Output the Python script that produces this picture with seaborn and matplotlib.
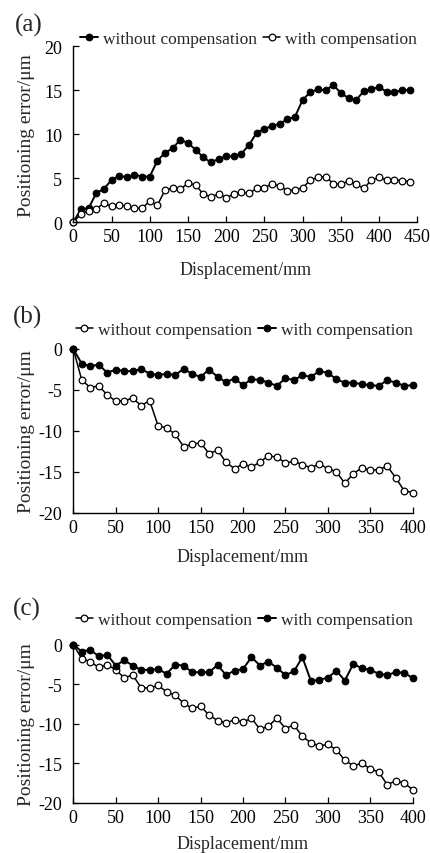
import numpy as np
import pandas as pd
import matplotlib
matplotlib.use("Agg")
import matplotlib.pyplot as plt
import seaborn as sns

# ---------------- data ----------------
x_a = list(range(0, 450, 10))
a_without = [0, 1.5, 1.6, 3.3, 3.8, 4.8, 5.3, 5.1, 5.4, 5.2, 5.2, 7.0, 7.9, 8.4, 9.4,
             9.0, 8.25, 7.4, 6.8, 7.2, 7.5, 7.5, 7.8, 8.8, 10.2, 10.6, 10.95, 11.2, 11.7, 12.0,
             13.9, 14.8, 15.1, 15.0, 15.6, 14.7, 14.1, 13.9, 14.9, 15.1, 15.4, 14.8, 14.8, 15.0, 15.0]
a_with = [0, 0.95, 1.3, 1.55, 2.15, 1.8, 2.0, 1.8, 1.6, 1.6, 2.4, 1.95, 3.65, 3.9, 3.75,
          4.45, 4.25, 3.2, 2.9, 3.2, 2.8, 3.2, 3.4, 3.3, 3.85, 3.9, 4.4, 4.1, 3.6, 3.7,
          3.9, 4.8, 5.1, 5.2, 4.4, 4.3, 4.7, 4.3, 3.85, 4.8, 5.1, 4.8, 4.8, 4.75, 4.6]

x_bc = list(range(0, 410, 10))
b_without = [0, -3.8, -4.7, -4.5, -5.6, -6.35, -6.3, -6.0, -6.9, -6.3, -9.4, -9.6, -10.4,
             -11.9, -11.6, -11.45, -12.75, -12.35, -13.8, -14.6, -14.0, -14.4, -13.8, -13.0,
             -13.2, -13.9, -13.7, -14.1, -14.5, -14.0, -14.6, -14.95, -16.4, -15.2, -14.5,
             -14.8, -14.7, -14.3, -15.7, -17.3, -17.5]
b_with = [0, -1.8, -2.1, -1.9, -2.9, -2.5, -2.7, -2.7, -2.45, -3.0, -3.2, -3.0, -3.2, -2.4,
          -3.05, -3.4, -2.5, -3.4, -4.05, -3.6, -4.4, -3.7, -3.75, -4.1, -4.5, -3.55, -3.8,
          -3.2, -3.4, -2.7, -2.9, -3.7, -4.1, -4.1, -4.3, -4.4, -4.5, -3.8, -4.1, -4.5, -4.4]

c_without = [0, -1.8, -2.15, -2.9, -2.55, -3.2, -4.2, -3.85, -5.45, -5.5, -5.15, -6.0, -6.4,
             -7.4, -8.05, -7.8, -8.9, -9.6, -9.9, -9.5, -9.8, -9.3, -10.7, -10.3, -9.3, -10.6,
             -10.15, -11.6, -12.4, -12.8, -12.6, -13.3, -14.6, -15.3, -15.0, -15.7, -16.1,
             -17.7, -17.2, -17.5, -18.3]
c_with = [0, -0.9, -0.65, -1.5, -1.3, -2.65, -2.0, -2.65, -3.2, -3.2, -3.1, -3.7, -2.55,
          -2.65, -3.5, -3.5, -3.5, -2.6, -3.85, -3.3, -3.1, -1.6, -2.65, -2.15, -2.95, -3.85,
          -3.4, -1.6, -4.6, -4.45, -4.2, -3.3, -4.55, -2.45, -3.0, -3.2, -3.7, -3.85, -3.5,
          -3.55, -4.25]

xticks_a = [0, 50, 100, 150, 200, 250, 300, 350, 400, 450]
yticks_a = [0, 5, 10, 15, 20]
xticks_bc = [0, 50, 100, 150, 200, 250, 300, 350, 400]
yticks_bc = [-20, -15, -10, -5, 0]

sns.set_theme(style="ticks")
plt.rcParams['font.family'] = ['Liberation Serif', 'DejaVu Serif']
plt.rcParams['axes.unicode_minus'] = False

fig = plt.figure(figsize=(4.31, 8.54), dpi=100)

W, H = 431.0, 854.0
def axrect(l, r, t, b):
    return [l / W, 1 - b / H, (r - l) / W, (b - t) / H]

ax_a = fig.add_axes(axrect(73.3, 417.3, 47.3, 223.3))
ax_b = fig.add_axes(axrect(73.3, 412.7, 350.0, 514.0))
ax_c = fig.add_axes(axrect(73.3, 412.7, 645.5, 804.0))

filled = dict(marker='o', color='black', markerfacecolor='black', markeredgecolor='black',
              markersize=4.8, linewidth=1.4, markeredgewidth=0.8)
hollow = dict(marker='o', color='black', markerfacecolor='white', markeredgecolor='black',
              markersize=4.8, linewidth=1.1, markeredgewidth=0.9)

def draw(ax, x, s1, s2, l1, l2, st1, st2):
    d1 = pd.DataFrame({'x': x, 'y': s1})
    d2 = pd.DataFrame({'x': x, 'y': s2})
    sns.lineplot(data=d1, x='x', y='y', ax=ax, label=l1, **st1)
    sns.lineplot(data=d2, x='x', y='y', ax=ax, label=l2, **st2)

draw(ax_a, x_a, a_without, a_with, 'without compensation', 'with compensation', filled, hollow)
draw(ax_b, x_bc, b_without, b_with, 'without compensation', 'with compensation', hollow, filled)
draw(ax_c, x_bc, c_without, c_with, 'without compensation', 'with compensation', hollow, filled)

fs_tick = 13
panels = [
    (ax_a, xticks_a, yticks_a, (0, 450), (0, 20), '(a)', 47.3, 223.3, 73.3, 417.3, (15, 14), 48.0, 262),
    (ax_b, xticks_bc, yticks_bc, (0, 400), (-20, 0), '(b)', 350.0, 514.0, 73.3, 412.7, (13, 306), 339.0, 549),
    (ax_c, xticks_bc, yticks_bc, (0, 400), (-20, 0), '(c)', 645.5, 804.0, 73.3, 412.7, (13, 598), 629.0, 836),
]
for (ax, xt, yt, xl, yl, tag, top, bot, left, right, tagpos, leg_bottom, xlab_top) in panels:
    hpx = bot - top
    wpx = right - left
    ax.set_xlim(*xl)
    ax.set_ylim(*yl)
    ax.set_xticks(xt)
    ax.set_yticks(yt)
    ax.set_xticklabels([str(v) for v in xt])
    ax.set_yticklabels([str(v) for v in yt])
    for s in ['top', 'right']:
        ax.spines[s].set_visible(False)
    for s in ['left', 'bottom']:
        ax.spines[s].set_linewidth(1.0)
        ax.spines[s].set_color('black')
    ax.tick_params(axis='both', direction='in', length=4, width=0.9, colors='black',
                   labelsize=fs_tick)
    ax.tick_params(axis='x', pad=4)
    ax.tick_params(axis='y', pad=8)
    ax.set_xlabel('Displacement/mm', fontsize=13)
    ax.set_ylabel('Positioning error/μm', fontsize=14)
    ax.xaxis.set_label_coords(0.5, (bot - xlab_top) / hpx)
    ax.xaxis.label.set_va('top')
    ax.yaxis.set_label_coords((35 - left) / wpx, 0.5)
    ax.patch.set_alpha(0)
    for line in ax.get_lines():
        line.set_clip_on(False)
    ax.legend(loc='lower right', bbox_to_anchor=(1.0, (bot - leg_bottom) / hpx), ncol=2,
              frameon=False, fontsize=12.5, handlelength=1.0, handletextpad=0.3,
              columnspacing=0.35, borderaxespad=0.0, borderpad=0.0)
    ax.text((tagpos[0] - left) / wpx, (bot - tagpos[1]) / hpx, tag, transform=ax.transAxes,
            fontsize=18, ha='left', va='top')

fig.savefig('out.png', dpi=100)
